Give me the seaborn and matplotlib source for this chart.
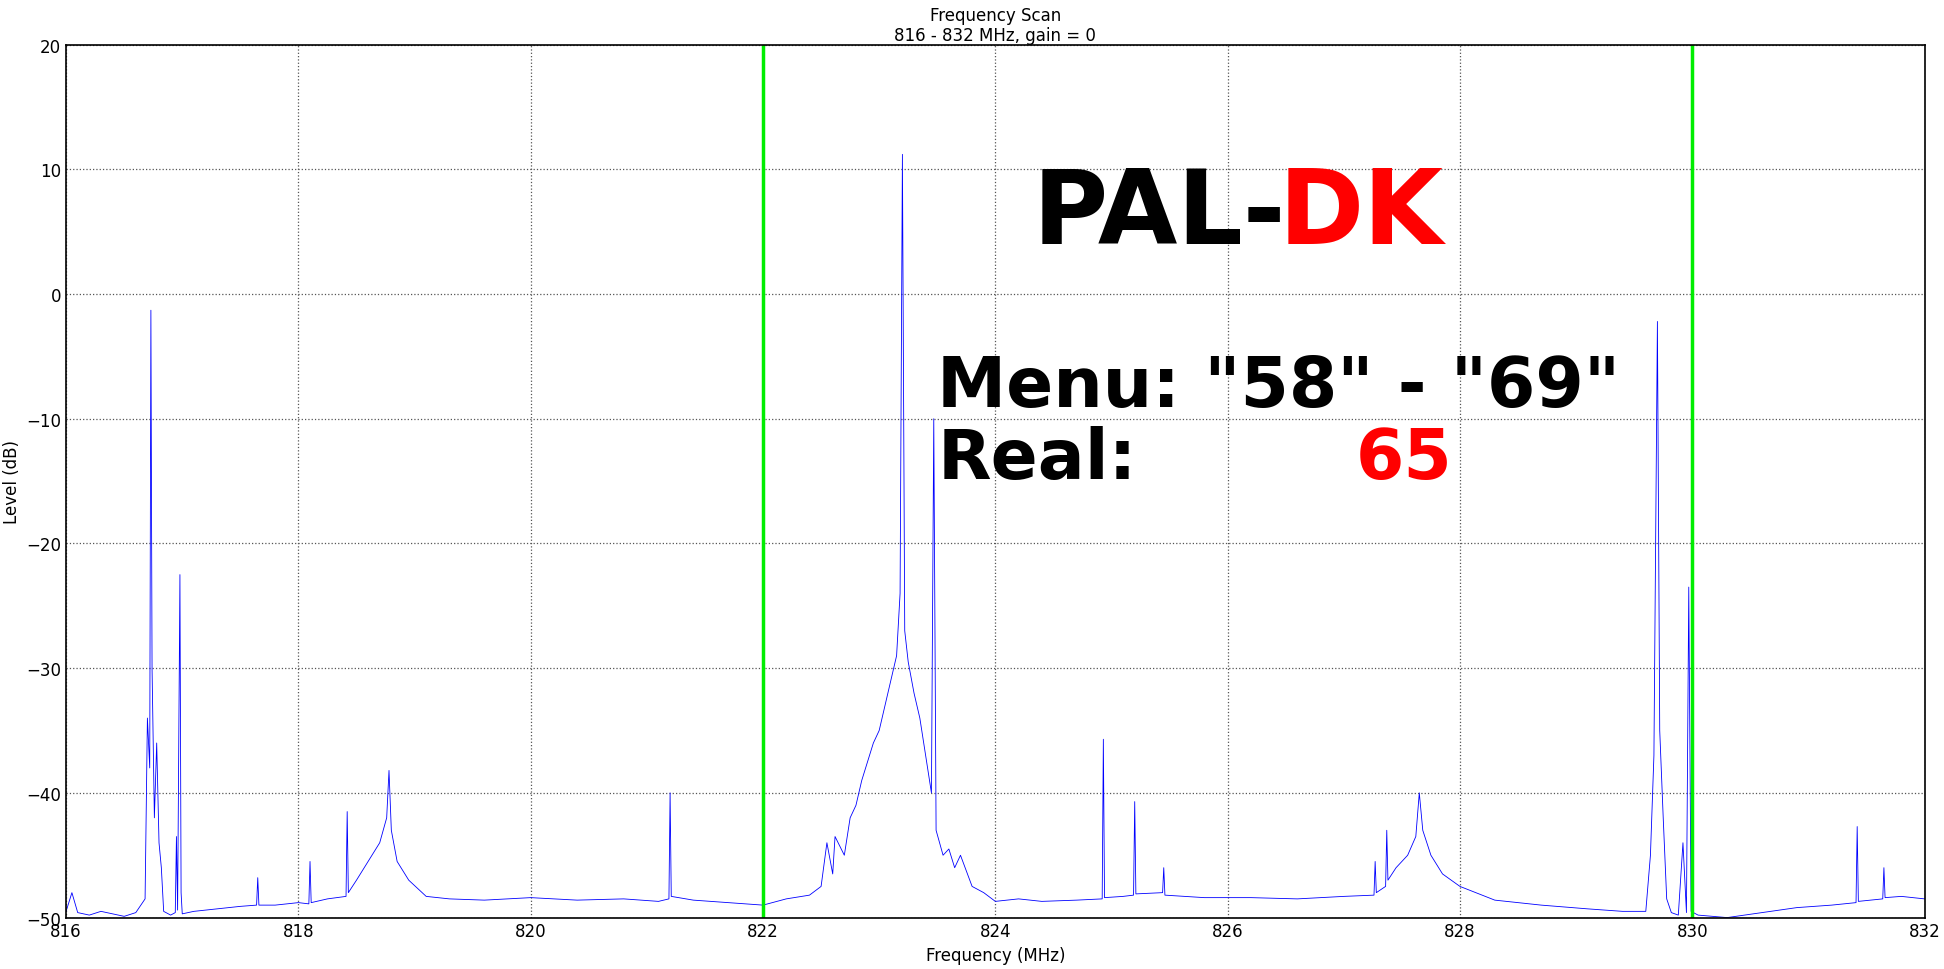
import pandas as pd
import matplotlib.pyplot as plt
import seaborn as sns

# trace points (MHz, dB)
freq = [816.00, 816.05, 816.10, 816.20, 816.30, 816.40, 816.50, 816.60, 816.68, 816.70, 816.72, 816.73,
        816.74, 816.76, 816.78, 816.80, 816.82, 816.84, 816.90, 816.94, 816.95, 816.96, 816.98, 816.99,
        817.00, 817.10, 817.30, 817.50, 817.64, 817.65, 817.66, 817.80, 818.00, 818.09, 818.10, 818.11,
        818.25, 818.41, 818.42, 818.43, 818.50, 818.60, 818.70, 818.76, 818.78, 818.80, 818.85, 818.95,
        819.10, 819.30, 819.60, 820.00, 820.40, 820.80, 821.10, 821.19, 821.20, 821.21, 821.40, 821.70,
        822.00, 822.20, 822.40, 822.50, 822.55, 822.60, 822.62, 822.70, 822.75, 822.80, 822.85, 822.90,
        822.95, 823.00, 823.05, 823.10, 823.15, 823.18, 823.20, 823.22, 823.25, 823.30, 823.35, 823.40,
        823.45, 823.47, 823.49, 823.55, 823.60, 823.65, 823.70, 823.80, 823.90, 824.00, 824.20, 824.40,
        824.70, 824.92, 824.93, 824.94, 825.10, 825.19, 825.20, 825.21, 825.44, 825.45, 825.46, 825.80,
        826.20, 826.60, 827.00, 827.26, 827.27, 827.28, 827.36, 827.37, 827.38, 827.45, 827.55, 827.62,
        827.65, 827.68, 827.75, 827.85, 828.00, 828.30, 828.70, 829.10, 829.40, 829.60, 829.64, 829.67,
        829.70, 829.72, 829.75, 829.78, 829.82, 829.88, 829.92, 829.95, 829.97, 829.99, 830.05, 830.30,
        830.60, 830.90, 831.20, 831.41, 831.42, 831.43, 831.64, 831.65, 831.66, 831.80, 832.00]
level = [-49.5, -48.0, -49.6, -49.8, -49.5, -49.7, -49.9, -49.6, -48.5, -34.0, -38.0, -1.3,
         -30.0, -42.0, -36.0, -44.0, -46.0, -49.5, -49.8, -49.6, -43.5, -49.4, -22.5, -48.0,
         -49.7, -49.5, -49.3, -49.1, -49.0, -46.8, -49.0, -49.0, -48.8, -48.9, -45.5, -48.8,
         -48.5, -48.3, -41.5, -48.0, -47.0, -45.5, -44.0, -42.0, -38.2, -43.0, -45.5, -47.0,
         -48.3, -48.5, -48.6, -48.4, -48.6, -48.5, -48.7, -48.5, -40.0, -48.3, -48.6, -48.8,
         -49.0, -48.5, -48.2, -47.5, -44.0, -46.5, -43.5, -45.0, -42.0, -41.0, -39.0, -37.5,
         -36.0, -35.0, -33.0, -31.0, -29.0, -24.0, 11.2, -27.0, -29.5, -32.0, -34.0, -37.0,
         -40.0, -10.0, -43.0, -45.0, -44.5, -46.0, -45.0, -47.5, -48.0, -48.7, -48.5, -48.7,
         -48.6, -48.5, -35.7, -48.4, -48.3, -48.2, -40.7, -48.1, -48.0, -46.0, -48.2, -48.4,
         -48.4, -48.5, -48.3, -48.2, -45.5, -48.0, -47.5, -43.0, -47.0, -46.0, -45.0, -43.5,
         -40.0, -43.0, -45.0, -46.5, -47.5, -48.6, -49.0, -49.3, -49.5, -49.5, -45.0, -37.0,
         -2.2, -35.0, -42.0, -48.5, -49.6, -49.8, -44.0, -49.6, -23.5, -49.5, -49.8, -50.0,
         -49.6, -49.2, -49.0, -48.8, -42.7, -48.7, -48.5, -46.0, -48.4, -48.3, -48.5]
band_edges = [822.0, 830.0]

sns.set_style("white")
plt.rcParams['font.family'] = ['DejaVu Sans']
plt.rcParams['text.color'] = 'black'

df = pd.DataFrame({'Frequency (MHz)': freq, 'Level (dB)': level})

fig, ax = plt.subplots(figsize=(19.44, 9.70), dpi=100)
fig.subplots_adjust(left=0.034, right=0.99, top=0.953, bottom=0.053)

sns.lineplot(data=df, x='Frequency (MHz)', y='Level (dB)', estimator=None, sort=False,
             color='blue', lw=0.6, ax=ax)
for f in band_edges:
    ax.axvline(f, color='#00ee00', lw=2.5)

ax.set_xlim(816, 832)
ax.set_ylim(-50, 20)
ax.set_xticks(range(816, 833, 2))
ax.set_yticks(range(-50, 21, 10))
ax.grid(True, ls=':', color='#555555', lw=0.9)
for s in ax.spines.values():
    s.set_color('k')
    s.set_linewidth(1.2)
ax.tick_params(labelsize=12, direction='in', length=6, color='k', labelcolor='k')
ax.set_xlabel('Frequency (MHz)', fontsize=12, color='k')
ax.set_ylabel('Level (dB)', fontsize=12, color='k')
ax.set_title('Frequency Scan\n816 - 832 MHz, gain = 0', fontsize=12, pad=3, color='k')

ax.text(824.32, 6.4, 'PAL-', fontsize=74, fontweight='bold', va='center', ha='left', color='k')
ax.text(826.44, 6.4, 'DK', fontsize=74, fontweight='bold', va='center', ha='left', color='red')
ax.text(823.5, -7.4, 'Menu: "58" - "69"', fontsize=50, fontweight='bold', va='center', color='k')
ax.text(823.5, -13.2, 'Real:', fontsize=50, fontweight='bold', va='center', color='k')
ax.text(827.1, -13.2, '65', fontsize=50, fontweight='bold', va='center', color='red')

plt.savefig('out.png', dpi=100)
